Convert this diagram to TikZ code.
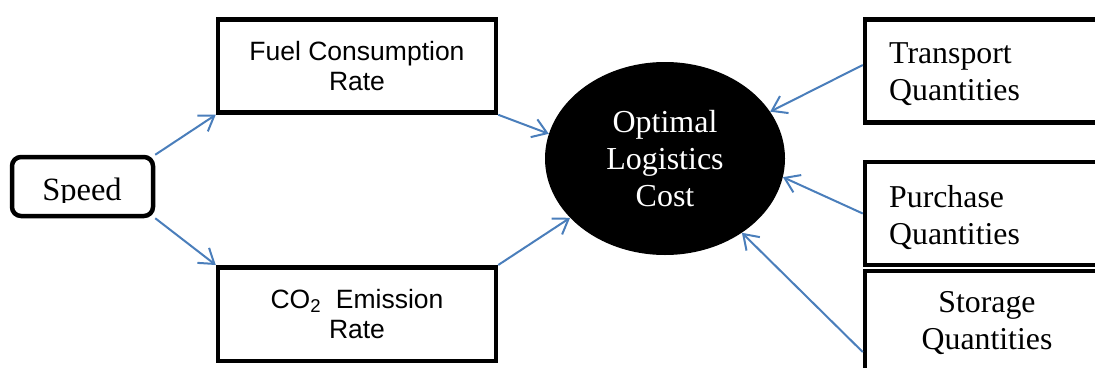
\documentclass[tikz,border=0pt]{standalone}
\usepackage{fontspec}
\setmainfont{Liberation Serif}
\newfontfamily\sansf{Liberation Sans}
\usetikzlibrary{shapes.geometric,arrows.meta,calc}
\definecolor{arrowblue}{HTML}{4A7EBB}
\begin{document}
\begin{tikzpicture}[x=1pt,y=-1pt,
  box/.style={draw=black,line width=4.5pt,inner sep=0pt,rectangle},
  sansbox/.style={box,align=center,font=\sansf\fontsize{26.5}{30}\selectfont},
  serif/.style={font=\fontsize{31.8}{37}\selectfont,inner sep=0pt},
  link/.style={draw=arrowblue,line width=2pt,-{Straight Barb[length=14pt,width=19pt]}}]
\useasboundingbox (0,0) rectangle (1095,367);
\clip (0,0) rectangle (1095,367);

% Speed
\node[box,rounded corners=9pt,minimum width=141pt,minimum height=59pt] (speed) at (82.5,186.5) {};
\begin{scope}
  \clip (14,160) rectangle (151,202);
  \node[serif,anchor=base,font=\fontsize{32.5}{37}\selectfont] (speedtxt) at (82,200) {Speed};
\end{scope}

% middle boxes
\node[sansbox,minimum width=278pt,minimum height=93pt] (fuel) at (357,66) {Fuel Consumption\\Rate};
\node[sansbox,minimum width=278pt,minimum height=93.5pt] (co2) at (357,314) {CO\textsubscript{2}\ \ Emission\\Rate};

% ellipse
\node[ellipse,fill=black,text=white,inner sep=0pt,minimum width=240pt,minimum height=193pt,
      align=center,font=\fontsize{32}{37}\selectfont] (cost) at (665,158.5) {Optimal\\Logistics\\Cost};

% right boxes
\node[box,minimum width=260pt,minimum height=103pt] (tr) at (995,71) {};
\node[serif,align=left,anchor=north west] (trtxt) at (889,42) {Transport\\Quantities};
\node[box,minimum width=260pt,minimum height=103pt] (pu) at (995,213.5) {};
\node[serif,align=left,anchor=north west] (putxt) at (889,185.3) {Purchase\\Quantities};
\node[box,minimum width=260pt,minimum height=120pt] (st) at (995,331) {};
\node[serif,align=center,anchor=north] (sttxt) at (987,291.5) {Storage\\Quantities};

% connectors
\draw[link] (speed.north east) -- (fuel.south west);
\draw[link] (speed.south east) -- (co2.north west);
\draw[link] (fuel.south east) -- (cost.168.7);
\draw[link] (co2.north east) -- (cost.212);
\draw[link] ([yshift=6pt]tr.west) -- (cost.24);
\draw[link] (pu.west) -- (cost.-9.4);
\draw[link] ([yshift=-21pt]st.west) -- (cost.-44);
\end{tikzpicture}
\end{document}
